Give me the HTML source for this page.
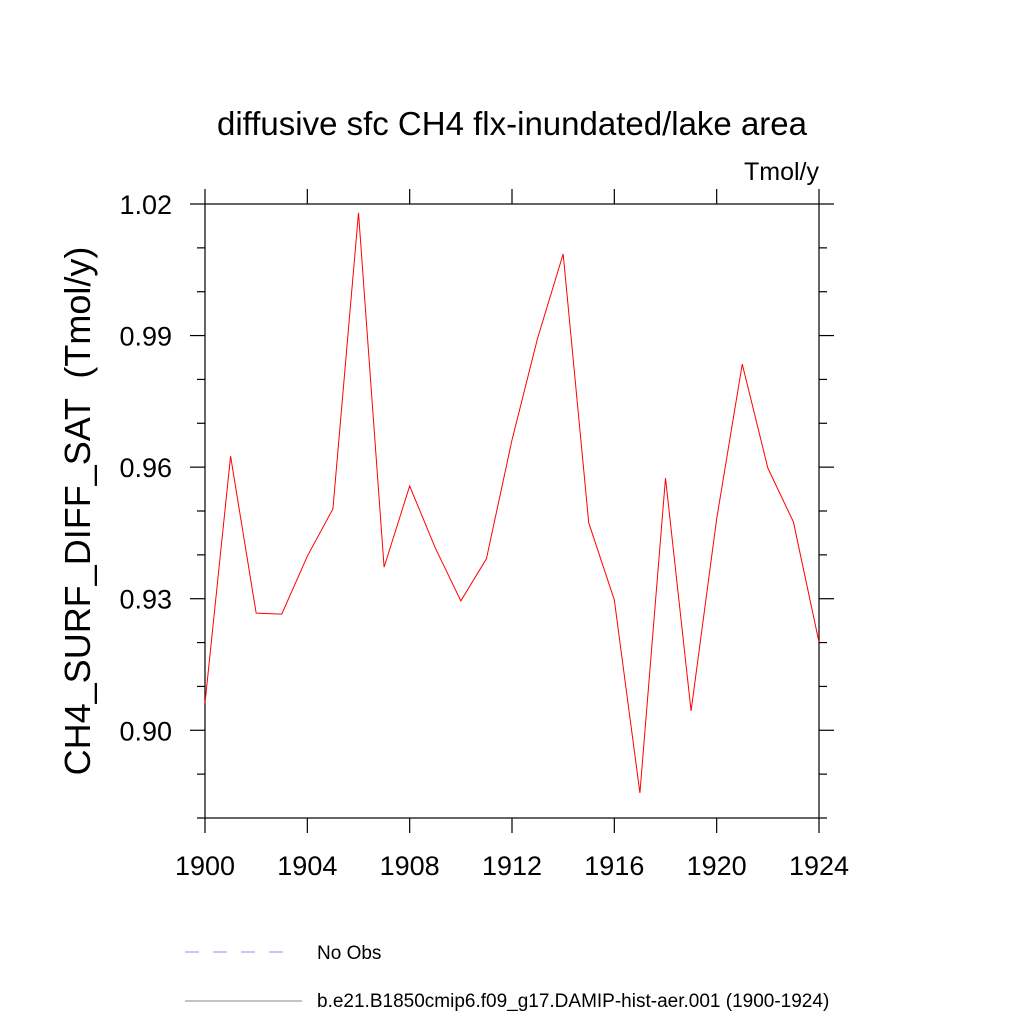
<!DOCTYPE html>
<html><head><meta charset="utf-8"><style>body{margin:0;background:#fff}svg{display:block}text{font-family:"Liberation Sans",sans-serif;fill:#000}</style></head>
<body>
<svg id="chart" width="1024" height="1024" viewBox="0 0 1024 1024">
<text x="512" y="135" font-size="33" text-anchor="middle">diffusive sfc CH4 flx-inundated/lake area</text>
<text x="819" y="180" font-size="25" text-anchor="end">Tmol/y</text>
<text transform="translate(90,511) rotate(-90)" font-size="36" text-anchor="middle" xml:space="preserve">CH4_SURF_DIFF_SAT  (Tmol/y)</text>
<g id="axes"></g>
<polyline id="series" fill="none" stroke="#ff0000" stroke-width="1"/>
<line x1="185" y1="952" x2="292" y2="952" stroke="#0000ff" stroke-width="0.8" stroke-dasharray="14,14" opacity="0.6"/>
<text x="317" y="959" font-size="19">No Obs</text>
<line x1="185" y1="1001" x2="302" y2="1001" stroke="#888" stroke-width="1"/>
<text x="317" y="1007" font-size="19">b.e21.B1850cmip6.f09_g17.DAMIP-hist-aer.001 (1900-1924)</text>
</svg>
<script>
const years=[1900,1901,1902,1903,1904,1905,1906,1907,1908,1909,1910,1911,1912,1913,1914,1915,1916,1917,1918,1919,1920,1921,1922,1923,1924];
const values=[0.9062,0.9625,0.9267,0.9265,0.9397,0.9505,1.018,0.9372,0.9557,0.9416,0.9295,0.9391,0.9662,0.9894,1.0086,0.9473,0.9297,0.8857,0.9575,0.9044,0.9482,0.9835,0.9598,0.9475,0.9201];
const xTicks=[1900,1904,1908,1912,1916,1920,1924];
const yTicks=[0.90,0.93,0.96,0.99,1.02];
const yTickLabels=["0.90","0.93","0.96","0.99","1.02"];
const L=205,R=819,T=204,B=818,x0=1900,x1=1924,y0=0.88,y1=1.02;
const sx=v=>L+(v-x0)/(x1-x0)*(R-L);
const sy=v=>B-(v-y0)/(y1-y0)*(B-T);
const ns="http://www.w3.org/2000/svg";
const g=document.getElementById('axes');
function ln(a,b,c,d,name){const e=document.createElementNS(ns,'line');e.setAttribute('x1',a);e.setAttribute('y1',b);e.setAttribute('x2',c);e.setAttribute('y2',d);e.setAttribute('stroke','#000');e.setAttribute('stroke-width','1.2');


g.appendChild(e);}
function tx(x,y,s,anchor,name){const e=document.createElementNS(ns,'text');e.setAttribute('x',x);e.setAttribute('y',y);e.setAttribute('font-size','27');e.setAttribute('text-anchor',anchor);e.textContent=s;


g.appendChild(e);}
const fr=document.createElementNS(ns,'rect');fr.setAttribute('x',L);fr.setAttribute('y',T);fr.setAttribute('width',R-L);fr.setAttribute('height',B-T);fr.setAttribute('fill','none');fr.setAttribute('stroke','#000');fr.setAttribute('stroke-width','1.2');


g.appendChild(fr);
xTicks.forEach(v=>{const x=sx(v);ln(x,B,x,B+15,'x-tick');ln(x,T,x,T-15,'x-tick-top');tx(x,B+57,String(v),'middle','x-tick-label');});
for(let k=0;k<=14;k++){const v=y0+k*0.01;const y=sy(v);const major=(k%3===2);const len=major?15:8;ln(L-len,y,L,y,'y-tick');ln(R,y,R+len,y,'y-tick-right');}
yTicks.forEach((v,i)=>{tx(L-33,sy(v)+10,yTickLabels[i],'end','y-tick-label');});
document.getElementById('series').setAttribute('points',years.map((y,i)=>sx(y)+','+sy(values[i])).join(' '));
</script>
</body></html>
